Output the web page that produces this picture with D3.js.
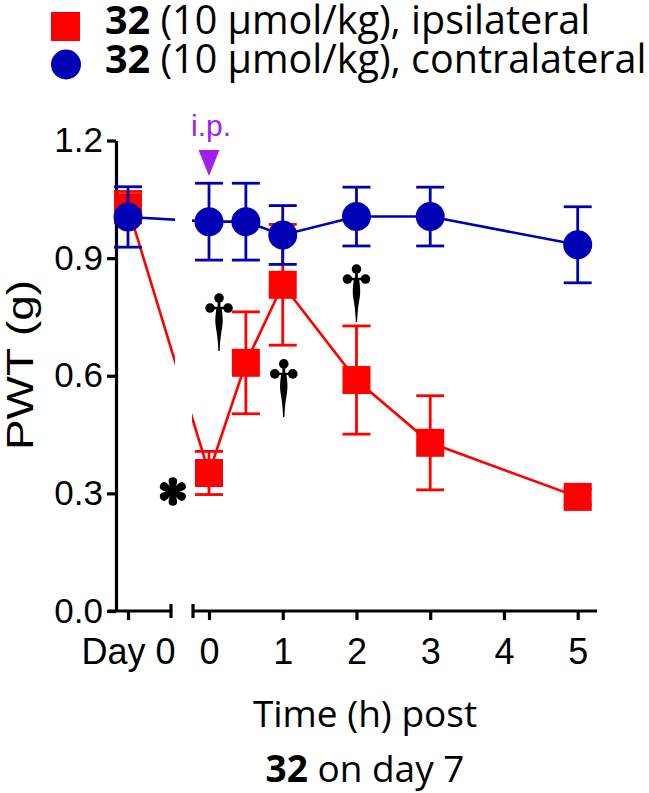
<!DOCTYPE html>
<html>
<head>
<meta charset="utf-8">
<script src="https://cdn.jsdelivr.net/npm/d3@7"></script>
<style>
  html, body { margin: 0; padding: 0; background: #fff; }
  svg { display: block; }
</style>
</head>
<body>
<svg id="chart" width="649" height="793"></svg>
<script>
// ---------------- data ----------------
const times = ["Day 0", 0, 0.5, 1, 2, 3, 5];
const ipsiMean = [1.03, 0.352, 0.633, 0.832, 0.589, 0.429, 0.291];
const ipsiErr  = [0.04, 0.055, 0.13, 0.154, 0.138, 0.12, 0.02];
const contraMean = [1.005, 0.993, 0.993, 0.959, 1.006, 1.006, 0.934];
const contraErr  = [0.077, 0.098, 0.098, 0.075, 0.075, 0.075, 0.097];
const yTicks = [0.0, 0.3, 0.6, 0.9, 1.2];
const hourTicks = [0, 1, 2, 3, 4, 5];
const dayTicks = ["Day 0"];
const legendLabels = ["32", "32"];
const legendRest = [" (10 μmol/kg), ipsilateral", " (10 μmol/kg), contralateral"];
// significance marks: [time (h), value]
const daggers = [[0.136, 0.737], [1.014, 0.569], [2.0, 0.811]];
const asterisks = [[-0.49, 0.305]];

// ---------------- layout ----------------
const svg = d3.select("#chart");
const red = "#ff0000", blue = "#0000b4", purple = "#a020f0";

const y = d3.scaleLinear().domain([0, 1.2]).range([611, 140.5]);
const x = d3.scaleLinear().domain([0, 5]).range([209, 577.7]);
const xDay = d3.scaleOrdinal().domain(dayTicks).range([128]);
const pos = t => (typeof t === "string") ? xDay(t) : x(t);

const breakL = 171, breakR = 193, axisRight = 597, axisLeft = 116;
const tickFont = "Liberation Sans, Arial, sans-serif";
const tf = "'Open Sans', sans-serif";

// clip for break gap
const defs = svg.append("defs");
const cp = defs.append("clipPath").attr("id", "gap");
cp.append("rect").attr("x", 0).attr("y", 0).attr("width", 175).attr("height", 793);
cp.append("rect").attr("x", 192).attr("y", 0).attr("width", 649 - 192).attr("height", 793);

// ---------------- axes ----------------
const axG = svg.append("g").attr("stroke", "#000").attr("stroke-width", 3.2).attr("fill", "none");
const yAxis = d3.axisLeft(y).tickValues(yTicks).tickFormat(d3.format(".1f")).tickSize(9).tickSizeOuter(0);
const gy = svg.append("g").attr("transform", `translate(${axisLeft},0)`).call(yAxis);
gy.select(".domain").attr("stroke-width", 3.2);
gy.selectAll(".tick line").attr("stroke-width", 3.2);
gy.selectAll(".tick text").attr("font-family", tickFont).attr("font-size", 35).attr("fill", "#000").attr("x", -13);

const gxl = svg.append("g").attr("transform", "translate(0,611)")
  .call(d3.axisBottom(xDay).tickSize(9).tickSizeOuter(0));
gxl.select(".domain").remove();
gxl.selectAll(".tick line").attr("stroke-width", 3.2);
gxl.selectAll(".tick text").attr("font-family", tickFont).attr("font-size", 36).attr("fill", "#000").attr("dy", "1.15em").attr("y", 12);

const gxr = svg.append("g").attr("transform", "translate(0,611)")
  .call(d3.axisBottom(x).tickValues(hourTicks).tickFormat(d3.format("d")).tickSize(9).tickSizeOuter(0));
gxr.select(".domain").remove();
gxr.selectAll(".tick line").attr("stroke-width", 3.2);
gxr.selectAll(".tick text").attr("font-family", tickFont).attr("font-size", 36).attr("fill", "#000").attr("dy", "1.15em").attr("y", 12);

axG.append("line").attr("x1", axisLeft - 8).attr("x2", breakL).attr("y1", 611).attr("y2", 611);
axG.append("line").attr("x1", breakL).attr("x2", breakL).attr("y1", 604).attr("y2", 618);
axG.append("line").attr("x1", breakR).attr("x2", axisRight).attr("y1", 611).attr("y2", 611);
axG.append("line").attr("x1", breakR).attr("x2", breakR).attr("y1", 604).attr("y2", 618);

// ---------------- series ----------------
function drawSeries(mean, err, color, shape) {
  const g = svg.append("g");
  const pts = times.map((t, i) => ({t, v: mean[i], e: err[i]}));
  const line = d3.line().x(d => pos(d.t)).y(d => y(d.v));
  g.append("path").datum(pts).attr("d", line).attr("fill", "none")
    .attr("stroke", color).attr("stroke-width", 2.6).attr("clip-path", "url(#gap)");
  const eb = g.append("g").attr("stroke", color).attr("stroke-width", 2.8);
  pts.forEach(d => {
    const cx = pos(d.t);
    eb.append("line").attr("x1", cx).attr("x2", cx).attr("y1", y(d.v + d.e)).attr("y2", y(d.v - d.e));
    eb.append("line").attr("x1", cx - 14).attr("x2", cx + 14).attr("y1", y(d.v + d.e)).attr("y2", y(d.v + d.e));
    eb.append("line").attr("x1", cx - 14).attr("x2", cx + 14).attr("y1", y(d.v - d.e)).attr("y2", y(d.v - d.e));
  });
  pts.forEach(d => {
    const cx = pos(d.t), cy = y(d.v);
    if (shape === "square") {
      g.append("rect").attr("x", cx - 14).attr("y", cy - 14).attr("width", 28).attr("height", 28).attr("fill", color);
    } else {
      g.append("circle").attr("cx", cx).attr("cy", cy).attr("r", 14.5).attr("fill", color);
    }
  });
}
drawSeries(ipsiMean, ipsiErr, red, "square");
drawSeries(contraMean, contraErr, blue, "circle");

// ---------------- significance marks ----------------
function dagger(g) {
  g.append("circle").attr("cx", 0).attr("cy", -23).attr("r", 4.8);
  g.append("circle").attr("cx", -9).attr("cy", -13).attr("r", 4.8);
  g.append("circle").attr("cx", 9).attr("cy", -13).attr("r", 4.8);
  g.append("path").attr("d", "M-9,-14.2 L9,-14.2 L9,-11.8 L-9,-11.8 Z M-1.4,-23 L1.4,-23 L1.4,-13 L-1.4,-13 Z");
  g.append("path").attr("d", "M-2.6,-13 C-3.6,-6 -4.2,0 -3.2,6 C-2.2,12 -1.1,18 -0.7,30 L0.7,30 C1.1,18 2.2,12 3.2,6 C4.2,0 3.6,-6 2.6,-13 Z");
}
daggers.forEach(d => {
  const g = svg.append("g").attr("transform", `translate(${x(d[0])},${y(d[1]) - 1})`).attr("fill", "#000");
  dagger(g);
});
asterisks.forEach(d => {
  const g = svg.append("g").attr("transform", `translate(${x(d[0])},${y(d[1])})`).attr("fill", "#000");
  for (let k = 0; k < 6; k++) {
    const a = k * 60 - 90;
    g.append("path").attr("transform", `rotate(${a})`)
      .attr("d", "M0,-1.3 C4,-2.4 8.5,-5 12,-4 C15,-2.8 15,2.8 12,4 C8.5,5 4,2.4 0,1.3 Z");
  }
});

// i.p. marker
svg.append("text").attr("x", x(0) + 2).attr("y", 136).attr("text-anchor", "middle")
  .attr("font-family", tickFont).attr("font-size", 30).attr("fill", purple).text("i.p.");
svg.append("path").attr("d", d3.line()([[x(0) - 10.5, 150], [x(0) + 10.5, 150], [x(0), 176]]) + "Z").attr("fill", purple);

// y title
svg.append("text").attr("transform", "translate(33,365) rotate(-90)").attr("text-anchor", "middle")
  .attr("font-family", tickFont).attr("font-size", 36)
  .attr("textLength", 170).attr("lengthAdjust", "spacingAndGlyphs").attr("fill", "#000").text("PWT (g)");

// x title
svg.append("text").attr("x", 365).attr("y", 727).attr("text-anchor", "middle")
  .attr("font-family", tf).attr("font-size", 37).attr("fill", "#000").text("Time (h) post");
const t2 = svg.append("text").attr("x", 365).attr("y", 782).attr("text-anchor", "middle")
  .attr("font-family", tf).attr("font-size", 37).attr("fill", "#000");
t2.append("tspan").attr("font-weight", "bold").text("32");
t2.append("tspan").text(" on day 7");

// ---------------- legend ----------------
const lg = svg.append("g");
lg.append("rect").attr("x", 51).attr("y", 12).attr("width", 29).attr("height", 29).attr("fill", red);
lg.append("circle").attr("cx", 66).attr("cy", 64.5).attr("r", 15).attr("fill", blue);
[34, 73].forEach((by, i) => {
  const t = lg.append("text").attr("x", 105).attr("y", by).attr("font-family", tf).attr("font-size", 39.5).attr("fill", "#000");
  t.append("tspan").attr("font-weight", "bold").text(legendLabels[i]);
  t.append("tspan").text(legendRest[i]);
});
</script>
</body>
</html>
